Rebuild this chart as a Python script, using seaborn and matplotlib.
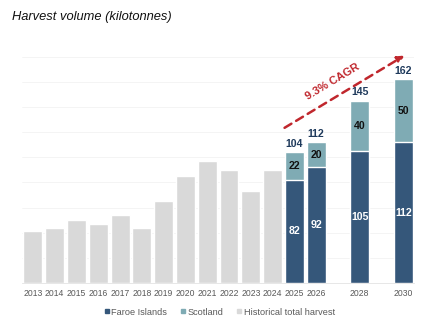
import matplotlib
matplotlib.use("Agg")
import matplotlib.pyplot as plt
from matplotlib.lines import Line2D
import seaborn as sns
import pandas as pd

# Historical total harvest (kilotonnes)
hist_years = [2013, 2014, 2015, 2016, 2017, 2018, 2019, 2020, 2021, 2022, 2023, 2024]
hist_total = [41, 44, 50, 47, 54, 44, 65, 85, 97, 90, 73, 90]

# Forecast split by region (kilotonnes)
fc_years = [2025, 2026, 2028, 2030]
faroe = [82, 92, 105, 112]
scotland = [22, 20, 40, 50]

cagr_label = "9.3% CAGR"
title = "Harvest volume (kilotonnes)"
legend_labels = ["Faroe Islands", "Scotland", "Historical total harvest"]

C_FAROE = "#35577A"
C_SCOT = "#7FABB4"
C_HIST = "#D9D9D9"
C_RED = "#C0272D"
C_TXT = "#595959"

sns.set_theme(style="white")
plt.rcParams["font.family"] = ["Liberation Sans", "DejaVu Sans"]

hist_df = pd.DataFrame({"year": hist_years, "value": hist_total})
fc_df = pd.DataFrame({"year": fc_years, "faroe": faroe, "scotland": scotland})
fc_df["total"] = fc_df["faroe"] + fc_df["scotland"]

fig = plt.figure(figsize=(4.31, 3.23), dpi=100)
ax = fig.add_axes([0.051, 0.124, 0.910, 0.700])

bw = 0.87
sns.barplot(data=hist_df, x="year", y="value", native_scale=True, width=bw,
            color=C_HIST, saturation=1, ax=ax, zorder=2)
sns.barplot(data=fc_df, x="year", y="total", native_scale=True, width=bw,
            color=C_SCOT, saturation=1, ax=ax, zorder=2)
sns.barplot(data=fc_df, x="year", y="faroe", native_scale=True, width=bw,
            color=C_FAROE, saturation=1, ax=ax, zorder=3)

ax.set_xlim(2012.5, 2030.5)
ax.set_ylim(0, 180)
all_years = hist_years + fc_years
ax.set_xticks(all_years)
ax.set_xticklabels([str(y) for y in all_years])
ax.tick_params(axis="x", length=0, pad=4, labelsize=6.2, labelcolor=C_TXT)
ax.set_yticks(range(0, 181, 20))
ax.set_yticklabels([])
ax.tick_params(axis="y", length=0)
ax.grid(axis="y", color="#F3F3F3", linewidth=0.6, zorder=0)
ax.set_axisbelow(True)
ax.set_xlabel("")
ax.set_ylabel("")
for s in ["top", "right", "left"]:
    ax.spines[s].set_visible(False)
ax.spines["bottom"].set_color("#E3E3E3")
ax.spines["bottom"].set_linewidth(0.6)

# Value labels on forecast bars
for _, r in fc_df.iterrows():
    ax.annotate(f"{r['total']:.0f}", (r["year"], r["total"]), xytext=(0, 2.5),
                textcoords="offset points", ha="center", va="bottom",
                fontsize=7.6, fontweight="bold", color="#1F3A5C")
    ax.text(r["year"], r["faroe"] + r["scotland"] / 2, f"{r['scotland']:.0f}",
            ha="center", va="center", fontsize=7.6, fontweight="bold",
            color="#111111", zorder=5)
    ax.text(r["year"], r["faroe"] / 2, f"{r['faroe']:.0f}",
            ha="center", va="center", fontsize=7.6, fontweight="bold",
            color="white", zorder=5)

# CAGR arrow
ax.annotate("", xy=(2030.05, 181), xytext=(2024.55, 123.5),
            arrowprops=dict(arrowstyle="-|>", color=C_RED, lw=1.8,
                            linestyle=(0, (3.2, 2.2)), mutation_scale=10,
                            shrinkA=0, shrinkB=0),
            annotation_clip=False, zorder=6)
ax.text(2026.75, 160, cagr_label, rotation=31, ha="center", va="center",
        fontsize=8, fontweight="bold", color=C_RED, zorder=6)

fig.text(0.028, 0.947, title, ha="left", va="center", fontsize=9.3,
         style="italic", color="#111111")

handles = [Line2D([], [], marker="s", linestyle="", markersize=3.2, color=c)
           for c in (C_FAROE, C_SCOT, C_HIST)]
fig.legend(handles, legend_labels, loc="center", bbox_to_anchor=(0.508, 0.034),
           ncol=3, frameon=False, fontsize=6.6, labelcolor=C_TXT,
           handletextpad=0.1, columnspacing=1.3, handlelength=0.8)

fig.savefig("out.png", dpi=100)
